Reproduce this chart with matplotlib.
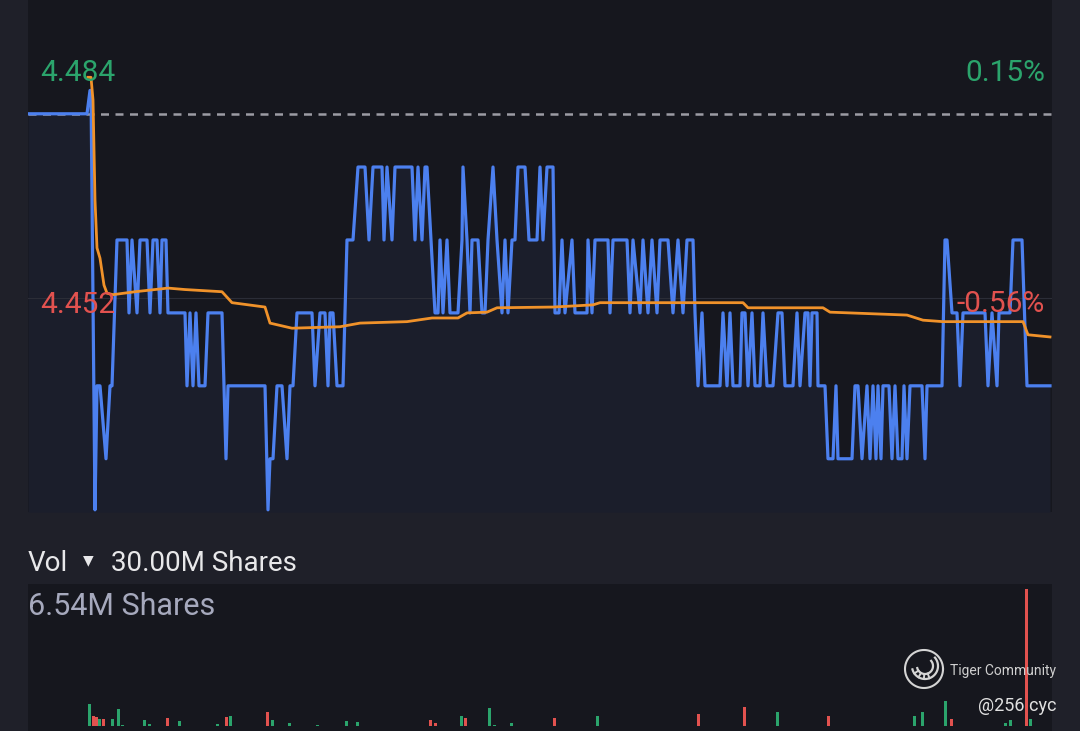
import numpy as np
import matplotlib.pyplot as plt

W, H = 1080, 731
plt.rcParams['font.family'] = ['Roboto', 'DejaVu Sans']

# price scale of the intraday panel
prev_close = 4.4773
y_low, y_high = 4.4227, 4.4929

# last traded price (tick index, price)
price_t = [0, 59, 62, 63, 67, 69, 72, 78, 82, 84, 89, 99, 101, 104, 109, 112, 119, 122, 125, 129,
           132, 134, 138, 140, 157, 159, 162, 165, 168, 171, 177, 180, 194, 198, 200, 237, 240, 242,
           245, 249, 254, 259, 262, 265, 269, 284, 287, 292, 297, 300, 302, 305, 309, 315, 319, 325,
           330, 337, 341, 345, 354, 356, 359, 364, 367, 384, 387, 390, 394, 397, 399, 403, 407, 410,
           412, 415, 419, 422, 430, 434, 435, 439, 442, 444, 450, 454, 457, 460, 465, 469, 474, 477,
           480, 484, 487, 490, 497, 501, 509, 512, 515, 519, 525, 527, 531, 534, 537, 544, 547, 559,
           560, 564, 567, 580, 582, 585, 599, 602, 605, 612, 615, 620, 624, 629, 632, 640, 645, 650,
           655, 659, 665, 667, 670, 674, 677, 692, 695, 699, 702, 705, 712, 714, 717, 720, 724, 727,
           732, 735, 739, 745, 750, 754, 757, 765, 769, 772, 777, 780, 782, 784, 789, 790, 797, 800,
           805, 808, 810, 824, 827, 830, 834, 839, 842, 845, 848, 850, 853, 855, 861, 864, 867, 870,
           874, 876, 879, 882, 894, 897, 899, 914, 917, 919, 924, 929, 932, 935, 957, 960, 964, 969,
           971, 982, 985, 994, 999, 1022]
price_v = [4.4773, 4.4773, 4.4805, 4.4805, 4.423, 4.44, 4.44, 4.43, 4.44, 4.44, 4.46, 4.46, 4.45, 4.46,
           4.45, 4.46, 4.46, 4.45, 4.46, 4.46, 4.45, 4.46, 4.46, 4.45, 4.45, 4.44, 4.45, 4.44, 4.45,
           4.44, 4.44, 4.45, 4.45, 4.43, 4.44, 4.44, 4.423, 4.43, 4.43, 4.44, 4.44, 4.43, 4.44, 4.44,
           4.45, 4.45, 4.44, 4.45, 4.45, 4.44, 4.45, 4.45, 4.44, 4.44, 4.46, 4.46, 4.47, 4.47, 4.46,
           4.47, 4.47, 4.46, 4.47, 4.46, 4.47, 4.47, 4.46, 4.47, 4.46, 4.47, 4.47, 4.46, 4.45, 4.45,
           4.46, 4.45, 4.46, 4.45, 4.45, 4.46, 4.47, 4.46, 4.45, 4.46, 4.46, 4.45, 4.45, 4.46, 4.47,
           4.46, 4.45, 4.46, 4.45, 4.46, 4.46, 4.47, 4.47, 4.46, 4.46, 4.47, 4.46, 4.47, 4.47, 4.45,
           4.45, 4.46, 4.45, 4.46, 4.45, 4.45, 4.46, 4.45, 4.46, 4.46, 4.45, 4.46, 4.46, 4.45, 4.46,
           4.45, 4.46, 4.45, 4.46, 4.45, 4.46, 4.46, 4.45, 4.46, 4.45, 4.46, 4.46, 4.45, 4.44, 4.45,
           4.44, 4.44, 4.45, 4.44, 4.45, 4.44, 4.44, 4.45, 4.45, 4.44, 4.45, 4.44, 4.44, 4.45, 4.44,
           4.44, 4.45, 4.45, 4.44, 4.44, 4.45, 4.44, 4.45, 4.45, 4.44, 4.45, 4.45, 4.44, 4.44, 4.43,
           4.43, 4.44, 4.43, 4.43, 4.44, 4.44, 4.43, 4.44, 4.43, 4.44, 4.43, 4.44, 4.43, 4.44, 4.44,
           4.43, 4.44, 4.43, 4.43, 4.44, 4.43, 4.44, 4.44, 4.43, 4.44, 4.44, 4.46, 4.46, 4.45, 4.45,
           4.44, 4.45, 4.45, 4.44, 4.45, 4.44, 4.45, 4.45, 4.46, 4.46, 4.44, 4.44]

# average price line
avg_t = [60, 63, 65, 67, 69, 72, 76, 79, 85, 107, 140, 157, 194, 204, 237, 242, 264, 312, 332, 379,
         404, 430, 439, 459, 469, 525, 565, 572, 715, 720, 795, 802, 879, 895, 915, 995, 1000, 1022]
avg_v = [4.4823, 4.4823, 4.4792, 4.4655, 4.4589, 4.4575, 4.4538, 4.4527, 4.4525, 4.4529, 4.4534,
         4.4532, 4.4529, 4.4514, 4.4508, 4.4486, 4.4479, 4.4481, 4.4486, 4.4488, 4.4493, 4.4493,
         4.4500, 4.4501, 4.4507, 4.4508, 4.4511, 4.4514, 4.4514, 4.4507, 4.4507, 4.4501, 4.4497,
         4.4490, 4.4488, 4.4488, 4.4470, 4.4467]

# volume bars (tick index, million shares, up tick?)
vol_t = [61, 65, 68, 71, 75, 84, 90, 94, 116, 121, 139, 151, 189, 198, 202, 239, 244, 261, 289, 318,
         329, 402, 407, 433, 437, 461, 466, 483, 526, 569, 670, 716, 749, 800, 886, 894, 917, 923,
         977, 982, 998, 1002]
vol_m = [1.03, 0.47, 0.42, 0.33, 0.33, 0.33, 0.79, 0.05, 0.28, 0.09, 0.37, 0.23, 0.09, 0.42, 0.47,
         0.65, 0.28, 0.14, 0.05, 0.23, 0.19, 0.28, 0.14, 0.47, 0.37, 0.84, 0.05, 0.14, 0.37, 0.47,
         0.56, 0.89, 0.65, 0.47, 0.47, 0.65, 1.17, 0.33, 0.14, 0.28, 6.54, 0.33]
vol_up = [1, 0, 0, 1, 0, 1, 1, 1, 1, 1, 0, 1, 1, 0, 1, 0, 1, 1, 1, 1,
          1, 0, 0, 1, 0, 1, 1, 1, 0, 1, 0, 0, 1, 0, 1, 1, 1, 0, 1, 1, 0, 1]

bg = '#1f2029'
panel = '#16171e'
green = '#2ba46c'
red = '#e2524f'
wm = '#d4d4d4'

fig = plt.figure(figsize=(W / 100, H / 100), dpi=100, facecolor=bg)


def px_box(x0, y0, x1, y1):
    return [x0 / W, 1 - y1 / H, (x1 - x0) / W, (y1 - y0) / H]


def clean(a):
    a.set_xticks([])
    a.set_yticks([])
    for s in a.spines.values():
        s.set_visible(False)


# intraday panel
ax = fig.add_axes(px_box(28, 0, 1052, 512))
ax.set_facecolor(panel)
ax.fill_between(price_t, price_v, y_low, color='#1b1e2b', lw=0)
ax.axhline(4.452, color='#2b2d37', lw=0.8)
ax.axhline(prev_close, color='#9c9ca4', lw=1.8, ls=(0, (3.2, 2.6)), zorder=1)
ax.plot(avg_t, avg_v, color='#f0922a', lw=2.0, zorder=3)
ax.plot(price_t, price_v, color='#4c80ef', lw=2.3, zorder=2, solid_joinstyle='round')
ax.set_xlim(0, 1024)
ax.set_ylim(y_low, y_high)
clean(ax)

fig.text(40 / W, 1 - 81 / H, '4.484', color=green, fontsize=21.5, va='baseline')
fig.text(40 / W, 1 - 313 / H, '4.452', color=red, fontsize=21.5, va='baseline')
fig.text(1045 / W, 1 - 81 / H, '0.15%', color=green, fontsize=21.5, va='baseline', ha='right')
fig.text(1045 / W, 1 - 312 / H, '-0.56%', color=red, fontsize=21.5, va='baseline', ha='right')

# volume header
fig.text(28 / W, 1 - 571 / H, 'Vol', color='#e8e8ea', fontsize=20, va='baseline')
fig.text(88 / W, 1 - 560 / H, '▼', color='#e8e8ea', fontsize=10, va='center', ha='center',
         family='DejaVu Sans')
fig.text(111 / W, 1 - 571 / H, '30.00M Shares', color='#e8e8ea', fontsize=20, va='baseline')

# volume panel
axv = fig.add_axes(px_box(28, 584, 1052, 731))
axv.set_facecolor(panel)
axv.bar(vol_t, vol_m, width=3, color=[green if u else red for u in vol_up], lw=0)
axv.set_xlim(0, 1024)
axv.set_ylim(-0.24, 6.78)
clean(axv)
fig.text(28 / W, 1 - 615 / H, '6.54M Shares', color='#a6a9bd', fontsize=22, va='baseline')

# watermark logo
axl = fig.add_axes(px_box(902, 647, 946, 691))
axl.set_xlim(-22, 22)
axl.set_ylim(-22, 22)
axl.axis('off')
ang = np.linspace(0, 2 * np.pi, 120)
axl.plot(19 * np.cos(ang), 19 * np.sin(ang), color=wm, lw=1.5)
arc = np.radians(np.linspace(195, 400, 80))
cx, cy = 1, 3
axl.plot(cx + 13 * np.cos(arc), cy + 13 * np.sin(arc), color=wm, lw=1.6)
axl.plot(cx + 8 * np.cos(arc), cy + 8 * np.sin(arc), color=wm, lw=1.6)
for a in np.radians([215, 240, 265, 290]):
    axl.plot([cx + 8 * np.cos(a), cx + 13 * np.cos(a)], [cy + 8 * np.sin(a), cy + 13 * np.sin(a)],
             color=wm, lw=1.4)

fig.text(950 / W, 1 - 671 / H, 'Tiger Community', color='#cfcfcf', fontsize=10, va='center')
fig.text(978 / W, 1 - 706 / H, '@256 cyc', color='#e0e0e0', fontsize=13, va='center')

fig.savefig('out.png', dpi=100, facecolor=bg)
